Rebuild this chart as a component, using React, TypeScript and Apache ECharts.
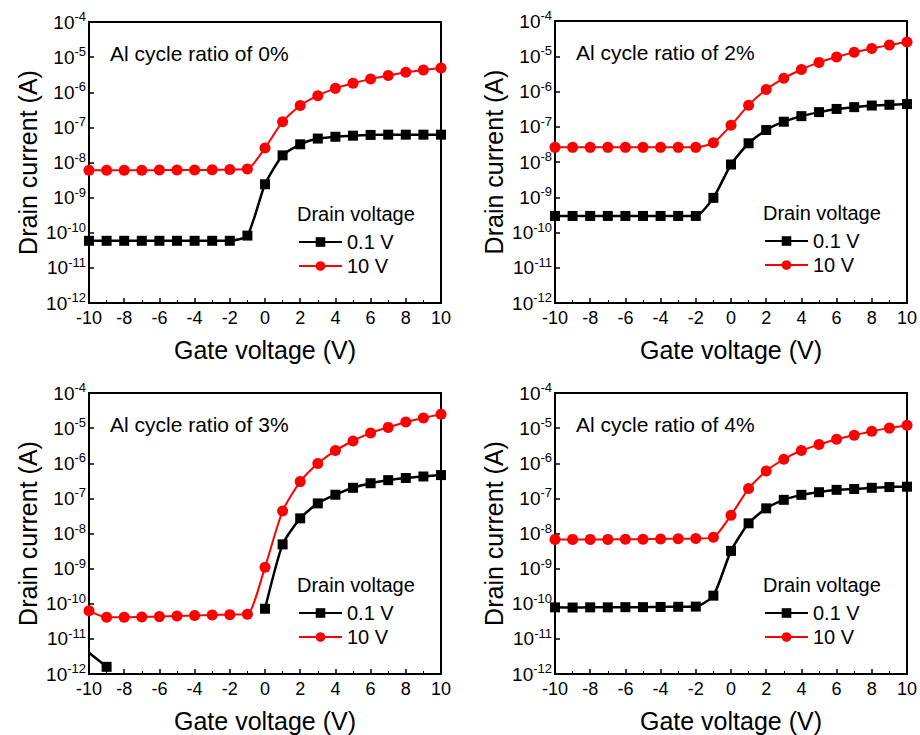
import React, { useEffect, useRef } from 'react';
import * as echarts from 'echarts';

// Gate voltage (V)
const gateVoltage = [-10, -9, -8, -7, -6, -5, -4, -3, -2, -1, 0, 1, 2, 3, 4, 5, 6, 7, 8, 9, 10];

// Al cycle ratio 0%
const r0Low = [5.9e-11, 5.9e-11, 5.9e-11, 5.9e-11, 5.9e-11, 5.9e-11, 5.9e-11, 5.9e-11, 5.9e-11, 8.3e-11, 2.4e-9, 1.6e-8, 3.3e-8, 4.8e-8, 5.4e-8, 5.8e-8, 6.1e-8, 6.2e-8, 6.2e-8, 6.2e-8, 6.2e-8];
const r0High = [6.0e-9, 6.0e-9, 6.0e-9, 6.0e-9, 6.1e-9, 6.1e-9, 6.1e-9, 6.2e-9, 6.3e-9, 6.5e-9, 2.6e-8, 1.45e-7, 4.2e-7, 8.0e-7, 1.29e-6, 1.8e-6, 2.4e-6, 3.0e-6, 3.7e-6, 4.3e-6, 4.9e-6];
// Al cycle ratio 2%
const r2Low = [2.95e-10, 2.95e-10, 2.95e-10, 2.95e-10, 2.95e-10, 2.95e-10, 2.95e-10, 2.95e-10, 2.95e-10, 9.6e-10, 8.5e-9, 3.4e-8, 8.1e-8, 1.39e-7, 2.0e-7, 2.6e-7, 3.2e-7, 3.6e-7, 4.0e-7, 4.2e-7, 4.4e-7];
const r2High = [2.6e-8, 2.6e-8, 2.6e-8, 2.6e-8, 2.6e-8, 2.6e-8, 2.6e-8, 2.6e-8, 2.6e-8, 3.5e-8, 1.1e-7, 4.1e-7, 1.14e-6, 2.36e-6, 4.2e-6, 6.7e-6, 9.5e-6, 1.3e-5, 1.65e-5, 2.1e-5, 2.55e-5];
// Al cycle ratio 3% ('-' = below the axis / not measurable)
const r3Low: (number | string)[] = [4e-12, 1.6e-12, '-', '-', '-', '-', '-', '-', '-', '-', 7.2e-11, 4.9e-9, 2.7e-8, 7.2e-8, 1.27e-7, 2.0e-7, 2.7e-7, 3.3e-7, 3.8e-7, 4.2e-7, 4.6e-7];
const r3High = [6.3e-11, 4.1e-11, 4.1e-11, 4.2e-11, 4.3e-11, 4.5e-11, 4.6e-11, 4.8e-11, 4.9e-11, 5.0e-11, 1.1e-9, 4.4e-8, 3.0e-7, 9.8e-7, 2.3e-6, 4.3e-6, 7.3e-6, 1.05e-5, 1.5e-5, 1.95e-5, 2.5e-5];
// Al cycle ratio 4%
const r4Low = [7.9e-11, 7.8e-11, 7.9e-11, 7.9e-11, 8.0e-11, 8.0e-11, 8.1e-11, 8.2e-11, 8.3e-11, 1.7e-10, 3.2e-9, 1.95e-8, 5.2e-8, 9.1e-8, 1.26e-7, 1.5e-7, 1.75e-7, 1.85e-7, 2.0e-7, 2.1e-7, 2.15e-7];
const r4High = [6.8e-9, 6.8e-9, 6.8e-9, 6.8e-9, 6.9e-9, 6.9e-9, 7.0e-9, 7.1e-9, 7.2e-9, 7.8e-9, 3.3e-8, 1.9e-7, 6.0e-7, 1.3e-6, 2.3e-6, 3.4e-6, 4.8e-6, 6.3e-6, 8.2e-6, 1.0e-5, 1.2e-5];

const lowSeries = [r0Low, r2Low, r3Low, r4Low];
const highSeries = [r0High, r2High, r3High, r4High];
const panelTitles = ['Al cycle ratio of 0%', 'Al cycle ratio of 2%', 'Al cycle ratio of 3%', 'Al cycle ratio of 4%'];
const legendNames = ['0.1 V', '10 V'];
const legendTitle = 'Drain voltage';
const xAxisTitle = 'Gate voltage (V)';
const yAxisTitle = 'Drain current (A)';

const FONT = 'Liberation Sans, Arial, sans-serif';

const grids = [
  { left: 89, top: 22, width: 352, height: 281 },
  { left: 555, top: 21, width: 352, height: 282 },
  { left: 89, top: 393, width: 352, height: 281 },
  { left: 555, top: 393, width: 352, height: 281 },
];

function pairs(ys: (number | string)[]) {
  // first point of the 3 % low-drain curve is only the line's entry, drawn without a marker
  return gateVoltage.map((x, i) => {
    const v = ys[i];
    if (i === 0 && typeof v === 'number' && v < 1e-11) return { value: [x, v], symbol: 'none' };
    return [x, v];
  });
}

export default function App() {
  const ref = useRef<HTMLDivElement>(null);
  useEffect(() => {
    if (!ref.current) return;
    const chart = echarts.init(ref.current, undefined, { renderer: 'svg' });
    const xAxes: any[] = [];
    const yAxes: any[] = [];
    const series: any[] = [];
    const legends: any[] = [];
    const graphics: any[] = [];
    grids.forEach((g, i) => {
      xAxes.push({
        gridIndex: i,
        type: 'value',
        min: -10,
        max: 10,
        interval: 2,
        name: xAxisTitle,
        nameLocation: 'middle',
        nameGap: 34,
        nameTextStyle: { fontSize: 25, color: '#000', fontFamily: FONT },
        axisLine: { show: true, onZero: false, lineStyle: { color: '#000', width: 2 } },
        axisTick: { show: true, inside: true, length: 5, lineStyle: { color: '#000', width: 1.5 } },
        minorTick: { show: true, splitNumber: 2, length: 3, lineStyle: { color: '#000', width: 1 } },
        axisLabel: { fontSize: 18, color: '#000', fontFamily: FONT, margin: 6 },
        splitLine: { show: false },
      });
      yAxes.push({
        gridIndex: i,
        type: 'log',
        logBase: 10,
        min: 1e-12,
        max: 1e-4,
        interval: 1,
        name: yAxisTitle,
        nameLocation: 'middle',
        nameGap: 49,
        nameTextStyle: { fontSize: 25, color: '#000', fontFamily: FONT },
        axisLine: { show: true, onZero: false, lineStyle: { color: '#000', width: 2 } },
        axisTick: { show: true, inside: true, length: 5, lineStyle: { color: '#000', width: 1.5 } },
        axisLabel: {
          margin: 3,
          fontFamily: FONT,
          formatter: (v: number) => `{b|10}{s|${Math.round(Math.log10(v))}}`,
          rich: {
            b: { fontSize: 19, color: '#000', fontFamily: FONT },
            s: { fontSize: 13, color: '#000', fontFamily: FONT, padding: [0, 0, 11, 0] },
          },
        },
        splitLine: { show: false },
      });
      series.push({
        name: legendNames[0],
        type: 'line',
        xAxisIndex: i,
        yAxisIndex: i,
        data: pairs(lowSeries[i]),
        symbol: 'rect',
        symbolSize: 10,
        smooth: 0.2,
        connectNulls: false,
        itemStyle: { color: '#000' },
        lineStyle: { color: '#000', width: 2.5 },
      });
      series.push({
        name: legendNames[1],
        type: 'line',
        xAxisIndex: i,
        yAxisIndex: i,
        data: pairs(highSeries[i]),
        symbol: 'circle',
        symbolSize: 11,
        smooth: 0.2,
        itemStyle: { color: '#ff0000' },
        lineStyle: { color: '#ff0000', width: 2 },
      });
      legends.push({
        data: legendNames,
        orient: 'vertical',
        left: g.left + 204,
        top: g.top + 205,
        itemWidth: 43,
        itemHeight: 12,
        itemGap: 4,
        selectedMode: false,
        textStyle: { fontSize: 20, color: '#000', fontFamily: FONT },
      });
      graphics.push({
        type: 'text',
        left: g.left + 21,
        top: g.top + 21,
        style: { text: panelTitles[i], fontSize: 21, fill: '#000', fontFamily: FONT },
      });
      graphics.push({
        type: 'text',
        left: g.left + 208,
        top: g.top + 182,
        style: { text: legendTitle, fontSize: 20, fill: '#000', fontFamily: FONT },
      });
    });
    chart.setOption({
      animation: false,
      backgroundColor: '#fff',
      grid: grids.map((g) => ({ ...g, show: true, borderColor: '#000', borderWidth: 2, backgroundColor: 'transparent' })),
      xAxis: xAxes,
      yAxis: yAxes,
      series,
      legend: legends,
      graphic: graphics,
    });
    return () => chart.dispose();
  }, []);
  return <div ref={ref} style={{ position: 'fixed', left: 0, top: 0, width: 920, height: 735 }} />;
}
